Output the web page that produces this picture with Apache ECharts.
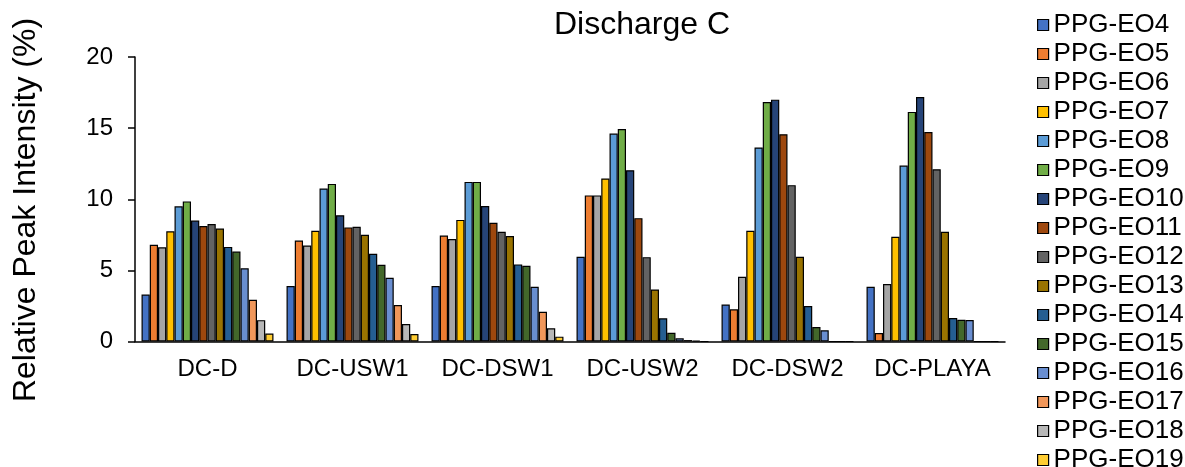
<!DOCTYPE html>
<html><head><meta charset="utf-8">
<script src="https://cdn.jsdelivr.net/npm/echarts@6/dist/echarts.min.js"></script>
<style>html,body{margin:0;padding:0;background:#fff}#c{width:1185px;height:467px}</style>
</head><body><div id="c"></div>
<script>
const categories = ['DC-D','DC-USW1','DC-DSW1','DC-USW2','DC-DSW2','DC-PLAYA'];
const seriesNames = ['PPG-EO4','PPG-EO5','PPG-EO6','PPG-EO7','PPG-EO8','PPG-EO9','PPG-EO10','PPG-EO11','PPG-EO12','PPG-EO13','PPG-EO14','PPG-EO15','PPG-EO16','PPG-EO17','PPG-EO18','PPG-EO19'];
const EO4  = [3.3, 3.9, 3.9, 5.95, 2.6, 3.85];
const EO5  = [6.8, 7.1, 7.45, 10.27, 2.26, 0.6];
const EO6  = [6.62, 6.75, 7.2, 10.27, 4.55, 4.04];
const EO7  = [7.75, 7.78, 8.55, 11.46, 7.78, 7.36];
const EO8  = [9.5, 10.76, 11.22, 14.62, 13.64, 12.37];
const EO9  = [9.85, 11.08, 11.22, 14.94, 16.84, 16.14];
const EO10 = [8.5, 8.88, 9.52, 12.04, 17.0, 17.19];
const EO11 = [8.12, 8.02, 8.34, 8.67, 14.57, 14.73];
const EO12 = [8.26, 8.06, 7.71, 5.93, 10.99, 12.11];
const EO13 = [7.94, 7.5, 7.41, 3.66, 5.96, 7.71];
const EO14 = [6.65, 6.17, 5.42, 1.63, 2.49, 1.65];
const EO15 = [6.32, 5.39, 5.32, 0.62, 1.02, 1.53];
const EO16 = [5.15, 4.48, 3.85, 0.22, 0.79, 1.51];
const EO17 = [2.93, 2.56, 2.09, 0.1, 0, 0];
const EO18 = [1.5, 1.23, 0.93, 0.05, 0, 0];
const EO19 = [0.56, 0.53, 0.34, 0, 0, 0];
const seriesValues = [EO4,EO5,EO6,EO7,EO8,EO9,EO10,EO11,EO12,EO13,EO14,EO15,EO16,EO17,EO18,EO19];
const yTicks = [0, 5, 10, 15, 20];
const colors = ['#4472C4','#ED7D31','#A5A5A5','#FFC000','#5B9BD5','#70AD47','#264478','#9E480E','#636363','#997300','#255E91','#43682B','#698ED0','#F1975A','#B7B7B7','#FFCD33'];

const font = 'Liberation Sans, Arial, sans-serif';
const chart = echarts.init(document.getElementById('c'));
chart.setOption({
  animation: false,
  color: colors,
  textStyle: {fontFamily: font},
  title: {text: 'Discharge C', left: 642, top: 9, textAlign: 'center', padding: 0,
    textStyle: {fontSize: 32, fontWeight: 'normal', color: '#000', fontFamily: font}},
  graphic: [{type: 'text', x: 26, y: 210, rotation: Math.PI / 2,
    style: {text: 'Relative Peak Intensity (%)', fontSize: 32, fill: '#000', fontFamily: font,
      align: 'center', verticalAlign: 'middle'}}],
  legend: {orient: 'vertical', left: 1037, top: 12, height: 520, padding: 0, itemWidth: 11, itemHeight: 11, itemGap: 3.0,
    icon: 'rect', data: seriesNames,
    itemStyle: {borderColor: '#000', borderWidth: 1.2},
    textStyle: {fontSize: 26, color: '#000', padding: [0,0,0,0], fontFamily: font}},
  grid: {left: 135, right: 180, top: 57, bottom: 125.5, containLabel: false},
  xAxis: {type: 'category', data: categories,
    axisLine: {lineStyle: {color: '#000', width: 1.5}},
    axisTick: {show: false},
    axisLabel: {fontSize: 24, color: '#000', margin: 16, interval: 0, fontFamily: font}},
  yAxis: {type: 'value', min: 0, max: 20, interval: 5,
    axisLine: {show: true, lineStyle: {color: '#000', width: 1.5}},
    axisTick: {show: true, length: 7, lineStyle: {color: '#000', width: 1.5}},
    splitLine: {show: false},
    axisLabel: {fontSize: 24, color: '#000', margin: 22, fontFamily: font,
      formatter: v => yTicks.includes(v) ? String(v) : ''}},
  series: seriesNames.map((n, i) => ({
    name: n, type: 'bar', data: seriesValues[i],
    barGap: '0%', barCategoryGap: '9%',
    itemStyle: {borderColor: '#000', borderWidth: 1.2}
  }))
});
</script></body></html>
